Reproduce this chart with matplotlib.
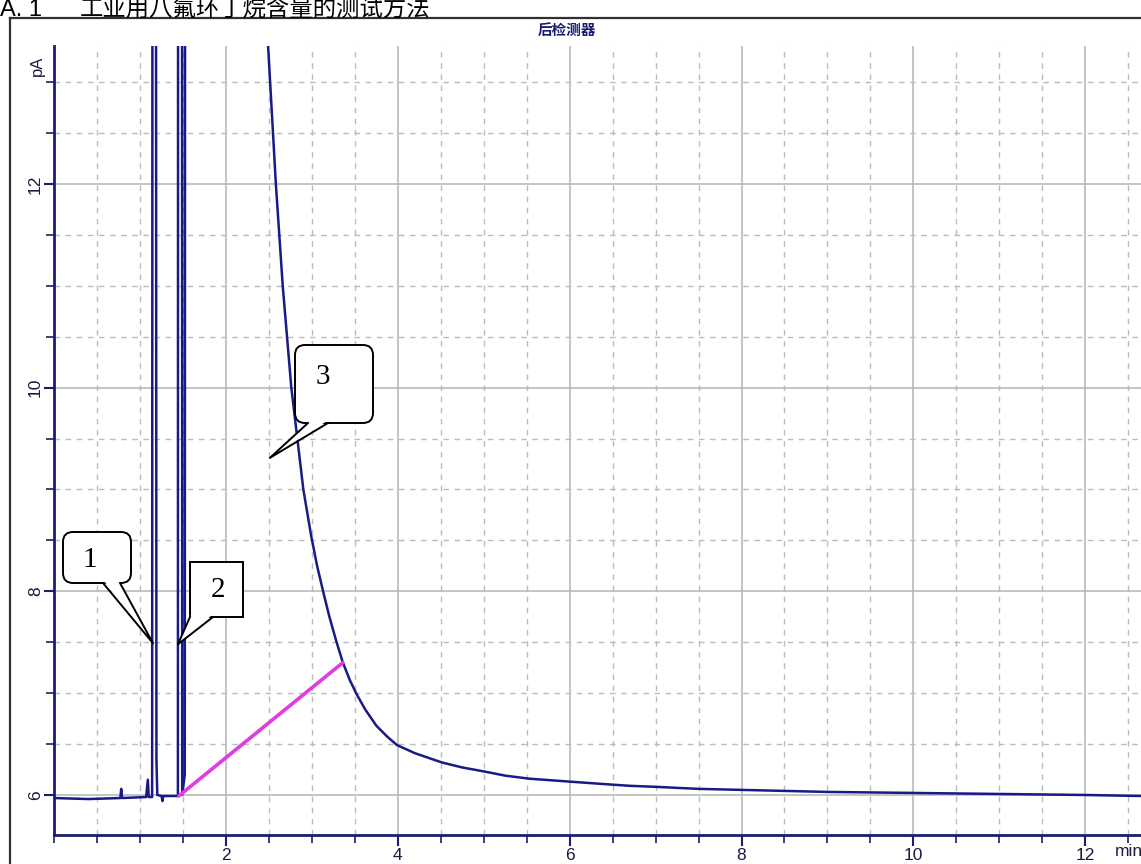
import matplotlib
matplotlib.use('Agg')
import matplotlib.pyplot as plt
import matplotlib.patches as ptc
from matplotlib.lines import Line2D
from matplotlib.ticker import MultipleLocator

# chromatogram (time in min, signal in pA)
time_min = [0.00, 0.40, 0.77, 0.78, 0.79, 1.07, 1.09, 1.10, 1.14, 1.15, 1.175, 1.19,
            1.20, 1.25, 1.26, 1.27, 1.44, 1.445, 1.485, 1.49, 1.52, 1.53, 2.48,
            2.49, 2.53, 2.58, 2.62, 2.66, 2.71, 2.76, 2.83, 2.90, 2.99,
            3.06, 3.13, 3.20, 3.28, 3.36, 3.44, 3.52, 3.62, 3.75, 3.88, 3.99,
            4.20, 4.51, 4.75, 5.01, 5.25, 5.53, 6.02, 6.35, 6.70, 7.00, 7.50,
            8.00, 9.00, 10.00, 11.00, 12.00, 12.65]
signal_pa = [5.97, 5.96, 5.97, 6.06, 5.97, 5.98, 6.15, 5.98, 5.98, 30.0, 30.0, 6.35,
             6.00, 5.99, 5.94, 5.99, 5.99, 30.0, 30.0, 6.00, 6.20, 30.0, 30.0,
             13.35, 12.75, 12.00, 11.50, 11.00, 10.50, 10.00, 9.50, 9.00, 8.55,
             8.25, 8.00, 7.76, 7.52, 7.30, 7.13, 6.99, 6.84, 6.68, 6.57, 6.49,
             6.41, 6.32, 6.27, 6.23, 6.19, 6.16, 6.13, 6.11, 6.09, 6.08, 6.06,
             6.05, 6.03, 6.02, 6.01, 6.00, 5.99]

# integration baseline of peak 3 (magenta)
base_t = [1.45, 3.36]
base_v = [5.99, 7.30]

# peak callouts: label, tip (time, pA)
peak_labels = ['1', '2', '3']
peak_tips = [(1.15, 7.49), (1.44, 7.48), (2.51, 9.31)]

x_ticks = [2, 4, 6, 8, 10, 12]
y_ticks = [6, 8, 10, 12]

W, H = 1141, 864
plt.rcParams['font.family'] = ['Liberation Sans', 'Noto Sans CJK SC', 'DejaVu Sans']
fig = plt.figure(figsize=(W / 100, H / 100), dpi=100)
fig.patch.set_facecolor('white')

ax = fig.add_axes([54.2 / W, (H - 835) / H, 1 - 54.2 / W, (835 - 46) / H])
ax.set_xlim(0, 12.65)
ax.set_ylim(5.607, 13.355)

navy = '#1a1a86'
ax.plot(time_min, signal_pa, color=navy, lw=1.8, zorder=3)
ax.plot(base_t, base_v, color='#e03ce0', lw=2.6, zorder=4, solid_capstyle='round')

# grid: solid on majors, dashed on the 0.5 steps
ax.xaxis.set_major_locator(MultipleLocator(2))
ax.xaxis.set_minor_locator(MultipleLocator(0.5))
ax.yaxis.set_major_locator(MultipleLocator(2))
ax.yaxis.set_minor_locator(MultipleLocator(0.5))
ax.grid(which='major', color='#b4b4b4', lw=1.1, ls='-')
ax.grid(which='minor', color='#bcbcbc', lw=1.0, ls=(0, (4, 4)))
ax.set_axisbelow(True)

for s in ['top', 'right']:
    ax.spines[s].set_visible(False)
for s in ['left', 'bottom']:
    ax.spines[s].set_color('#1c1c72')
    ax.spines[s].set_linewidth(2)

ax.set_xticks(x_ticks)
ax.set_yticks(y_ticks)
ax.tick_params(which='major', direction='out', width=1.5, color='#1c1c72',
               labelsize=12.5, labelcolor='#1a1a40')
ax.tick_params(axis='x', which='major', length=8, pad=1)
ax.tick_params(axis='y', which='major', length=7, pad=1)
ax.tick_params(which='minor', direction='out', length=6, width=1.2, color='#1c1c72')
for lab in ax.get_yticklabels():
    lab.set_rotation(90)
    lab.set_va('center')

fig.text(1115 / W, 1 - 851 / H, 'min', fontsize=12.5, color='#1a1a40',
         ha='left', va='center')
fig.text(37 / W, 1 - 66 / H, 'pA', rotation=90, fontsize=12, color='#1a1a40',
         ha='center', va='center')

# detector name and page heading
fig.text(567 / W, 1 - 30 / H, '后检测器', fontsize=10.5, fontweight='bold', color='#1a1a70',
         family=['Noto Sans CJK SC'], ha='center', va='center')
fig.text(0, 1 - 16 / H, 'A. 1', fontsize=17, color='black', ha='left', va='baseline')
fig.text(80 / W, 1 - 16 / H, '工业用八氟环丁烷含量的测试方法', fontsize=16.8, color='black',
         family=['Noto Sans CJK SC'], ha='left', va='baseline')

# outer window frame
fig.add_artist(Line2D([10 / W, 10 / W], [0, 1 - 18 / H], color='#303030', lw=1.6))
fig.add_artist(Line2D([10 / W, 1], [1 - 18 / H, 1 - 18 / H], color='#303030', lw=1.6))

# speech-bubble callouts, boxes given in screen pixels (top-left origin)
boxes = [(63, 532, 131, 583, True, 103, 120),
         (190, 562, 243, 617, False, 190, 213),
         (295, 345, 373, 423, True, 308, 328)]
text_pos = [(90, 560), (218, 590), (323, 377)]
for lab, tip, bx, tp in zip(peak_labels, peak_tips, boxes, text_pos):
    x0, y0, x1, y1, rnd, b0, b1 = bx
    if rnd:
        style = 'round,pad=0,rounding_size=10'
    else:
        style = 'square,pad=0'
    box = ptc.FancyBboxPatch((x0, H - y1), x1 - x0, y1 - y0, boxstyle=style,
                             fc='white', ec='black', lw=1.4, transform=None, zorder=6)
    fig.add_artist(box)
    tx, ty = ax.transData.transform(tip)
    yb = H - y1
    tail = ptc.Polygon([(b0 + 1, yb + 2), (tx, ty), (b1 - 1, yb + 2)], closed=True,
                       fc='white', ec='none', transform=None, zorder=7)
    fig.add_artist(tail)
    fig.add_artist(Line2D([b0, tx, b1], [yb, ty, yb], color='black', lw=1.4,
                          transform=None, zorder=8))
    fig.text(tp[0] / W, 1 - tp[1] / H, lab, fontsize=21, family=['Liberation Serif'],
             ha='center', va='center', zorder=9)

fig.savefig('out.png', dpi=100, facecolor='white')
